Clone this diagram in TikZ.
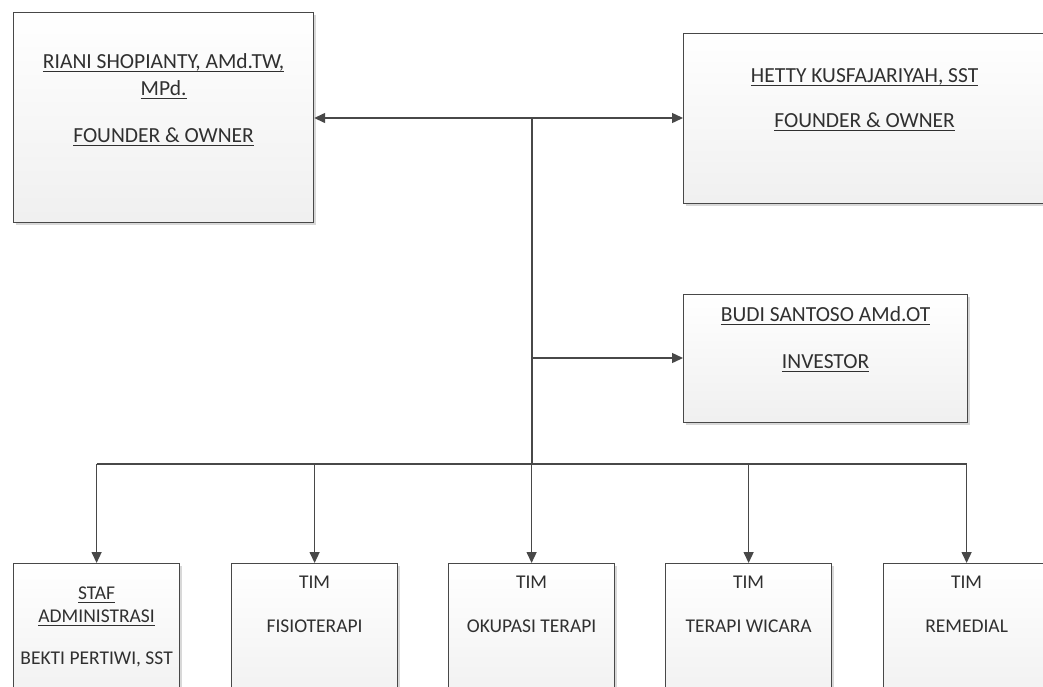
\documentclass[tikz,border=0pt]{standalone}
\usepackage{fontspec}
\setmainfont{Carlito}
\usetikzlibrary{arrows.meta,shadows}
\definecolor{ink}{HTML}{484848}
\definecolor{txt}{HTML}{303030}
% underlined text with a fixed rule position
\newcommand\undl[1]{\setbox0\hbox{#1}\rlap{\rule[-3.8pt]{\wd0}{1.1pt}}\box0}
\tikzset{
  box/.style={draw=ink, line width=1.2pt, inner sep=0pt, anchor=north west,
    top color=white, bottom color=black!6,
    drop shadow={shadow xshift=2.5pt, shadow yshift=-2.5pt, fill=black!30, opacity=0.5}},
  lbl/.style={anchor=base, inner sep=0pt, text=txt, font=\fontsize{21.5}{25}\selectfont},
  small/.style={lbl, font=\fontsize{19.5}{23}\selectfont},
  conn/.style={draw=ink, line width=1.4pt},
  arr/.style={conn, -{Triangle[length=11pt, width=10pt]}}
}
\begin{document}
\begin{tikzpicture}[x=1pt, y=-1pt]
  \useasboundingbox (0,0) rectangle (1043,686);
  \clip (0,0) rectangle (1043,686);

  % owners and investor
  \node[box, minimum width=300pt, minimum height=210pt] (rs) at (13,12) {};
  \node[box, minimum width=362pt, minimum height=170pt] (hk) at (683,33) {};
  \node[box, minimum width=284pt, minimum height=128pt] (bs) at (683,294) {};

  \node[lbl] (rs1) at ([yshift=-56pt]rs.north) {\undl{RIANI SHOPIANTY, AMd.TW,}};
  \node[lbl] (rs2) at ([yshift=-83pt]rs.north) {\undl{MPd.}};
  \node[lbl] (rs3) at ([yshift=-130pt]rs.north) {\undl{FOUNDER \& OWNER}};

  \node[lbl] (hk1) at ([yshift=-49pt]hk.north) {\undl{HETTY KUSFAJARIYAH, SST}};
  \node[lbl] (hk2) at ([yshift=-94pt]hk.north) {\undl{FOUNDER \& OWNER}};

  \node[lbl] (bs1) at ([yshift=-27pt]bs.north) {\undl{BUDI SANTOSO AMd.OT}};
  \node[lbl] (bs2) at ([yshift=-74pt]bs.north) {\undl{INVESTOR}};

  % teams
  \node[box, minimum width=166pt, minimum height=150pt] (sa) at (13,563) {};
  \node[box, minimum width=166pt, minimum height=150pt] (fi) at (231,563) {};
  \node[box, minimum width=166pt, minimum height=150pt] (ok) at (448,563) {};
  \node[box, minimum width=166pt, minimum height=150pt] (tw) at (665,563) {};
  \node[box, minimum width=166pt, minimum height=150pt] (rm) at (883,563) {};

  \node[small] (sa1) at ([yshift=-36pt]sa.north) {\undl{STAF}};
  \node[small] (sa2) at ([yshift=-59pt]sa.north) {\undl{ADMINISTRASI}};
  \node[small] (sa3) at ([yshift=-101pt]sa.north) {BEKTI PERTIWI, SST};

  \node[small] (fi1) at ([yshift=-25pt]fi.north) {TIM};
  \node[small] (fi2) at ([yshift=-69pt]fi.north) {FISIOTERAPI};
  \node[small] (ok1) at ([yshift=-25pt]ok.north) {TIM};
  \node[small] (ok2) at ([yshift=-69pt]ok.north) {OKUPASI TERAPI};
  \node[small] (tw1) at ([yshift=-25pt]tw.north) {TIM};
  \node[small] (tw2) at ([yshift=-69pt]tw.north) {TERAPI WICARA};
  \node[small] (rm1) at ([yshift=-25pt]rm.north) {TIM};
  \node[small] (rm2) at ([yshift=-69pt]rm.north) {REMEDIAL};

  % connectors
  \coordinate (top) at (532,118);
  \coordinate (mid) at (532,358);
  \coordinate (hub) at (532,464);

  \draw[conn] (top) -- (hub);
  \draw[arr] (top) -- (top -| rs.east);
  \draw[arr] (top) -- (top -| hk.west);
  \draw[arr] (mid) -- (mid -| bs.west);
  \draw[conn] (hub -| sa.north) -- (hub -| rm.north);
  \foreach \t in {sa,fi,ok,tw,rm}
    \draw[arr] (hub -| \t.north) -- (\t.north);
\end{tikzpicture}
\end{document}
